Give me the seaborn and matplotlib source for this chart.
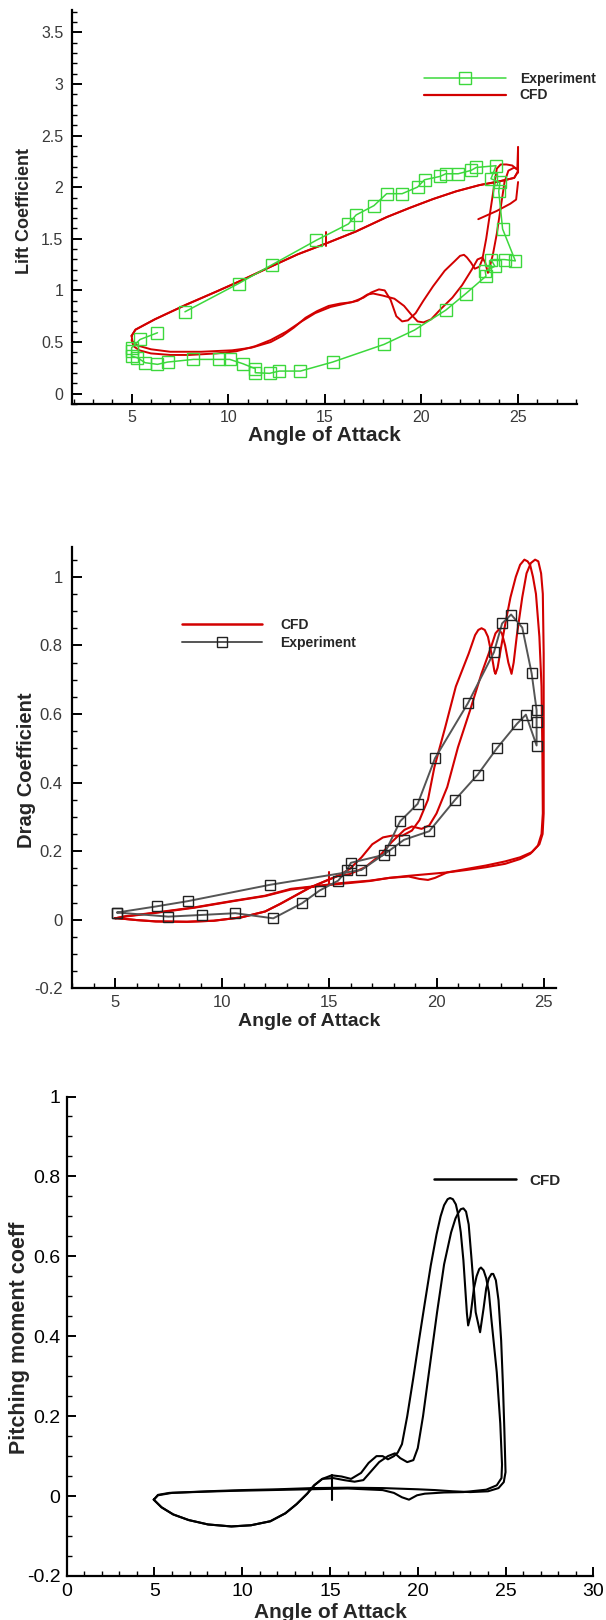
import numpy as np
import pandas as pd
import matplotlib
matplotlib.use('Agg')
import matplotlib.pyplot as plt
from matplotlib.lines import Line2D
from matplotlib.ticker import MultipleLocator, FuncFormatter
import seaborn as sns

# ---------------------------------------------------------
# Data (angle of attack in degrees)
# ---------------------------------------------------------
# Lift: experiment (one sweep, starts mid upstroke)
cl_exp_aoa = [7.76, 10.54, 12.28, 14.56, 16.22, 16.62, 17.54, 18.20, 19.00, 19.80, 20.16, 20.96,
              21.26, 21.90, 22.56, 22.84, 23.86, 23.60, 24.06, 24.00, 24.20, 24.86, 24.30, 23.60,
              23.80, 23.30, 23.34, 22.30, 21.26, 19.64, 18.06, 15.40, 13.74, 12.64, 12.14, 11.40,
              11.40, 10.76, 10.08, 9.52, 8.20, 6.86, 6.34, 5.70, 5.30, 5.00, 5.00, 5.00, 5.44, 6.34]
cl_exp_val = [0.793, 1.067, 1.250, 1.486, 1.644, 1.731, 1.821, 1.937, 1.937, 2.001, 2.072, 2.104,
              2.130, 2.130, 2.162, 2.191, 2.208, 2.082, 2.046, 1.959, 1.595, 1.286, 1.299, 1.299,
              1.234, 1.186, 1.138, 0.970, 0.809, 0.616, 0.477, 0.306, 0.219, 0.219, 0.197, 0.203,
              0.242, 0.290, 0.332, 0.332, 0.332, 0.306, 0.284, 0.300, 0.348, 0.364, 0.413, 0.445,
              0.525, 0.590]

# Lift: CFD upstroke (shared by both cycles)
cl_up_aoa = [5.0, 5.2, 6.2, 7.8, 9.4, 10.6, 12.2, 13.6, 15.0, 16.6, 18.2, 19.4, 20.6, 21.8, 23.0,
             24.0, 24.8, 24.96]
cl_up_val = [0.56, 0.62, 0.72, 0.86, 0.99, 1.09, 1.23, 1.35, 1.45, 1.57, 1.71, 1.80, 1.885, 1.96,
             2.02, 2.055, 2.09, 2.14]
# Lift: CFD downstroke, cycle 1
cl_dn1_aoa = [25.0, 25.0, 24.96, 24.7, 24.4, 24.1, 23.9, 23.75, 23.55, 23.35, 23.15, 23.0, 22.76,
              22.56, 22.35, 22.2, 22.0, 21.7, 21.2, 20.6, 20.1, 19.7, 19.3, 19.0, 18.7, 18.4, 18.1,
              17.8, 17.4, 17.0, 16.4, 15.8, 15.2, 14.6, 14.0, 13.4, 12.8, 12.2, 11.2, 10.2, 8.6,
              7.0, 6.0, 5.3, 5.04, 5.0]
cl_dn1_val = [2.14, 2.39, 2.17, 2.21, 2.22, 2.22, 2.18, 2.0, 1.75, 1.5, 1.3, 1.23, 1.21, 1.27,
              1.32, 1.345, 1.335, 1.28, 1.19, 1.04, 0.90, 0.78, 0.71, 0.70, 0.75, 0.91, 1.00, 1.01,
              0.98, 0.93, 0.886, 0.873, 0.85, 0.80, 0.735, 0.64, 0.56, 0.50, 0.445, 0.42, 0.406,
              0.406, 0.43, 0.467, 0.51, 0.56]
# Lift: CFD downstroke, cycle 2
cl_dn2_aoa = [24.96, 25.0, 24.8, 24.5, 24.3, 24.1, 23.9, 23.7, 23.5, 23.44, 23.3, 23.15, 22.9,
              22.6, 22.1, 21.6, 21.0, 20.5, 20.1, 19.8, 19.5, 19.1, 18.6, 18.0, 17.5, 17.2, 16.7,
              16.0, 15.3, 14.5, 13.8, 13.0, 12.2, 11.4, 10.4, 9.4, 8.0, 7.0, 6.0, 5.4, 5.1, 5.0]
cl_dn2_val = [2.14, 2.17, 2.19, 2.16, 2.05, 1.8, 1.55, 1.35, 1.2, 1.17, 1.27, 1.32, 1.30, 1.20,
              1.05, 0.93, 0.82, 0.72, 0.69, 0.70, 0.76, 0.85, 0.92, 0.95, 0.97, 0.96, 0.90, 0.87,
              0.84, 0.78, 0.70, 0.60, 0.52, 0.46, 0.41, 0.39, 0.375, 0.375, 0.39, 0.42, 0.46, 0.52]
# Lift: CFD start-up pieces
cl_start_aoa = [22.94, 23.9, 24.6, 24.9, 25.0]
cl_start_val = [1.69, 1.77, 1.84, 1.88, 2.05]
cl_kick_aoa = [15.04, 15.04]
cl_kick_val = [1.43, 1.57]

# Drag: experiment
cd_exp_aoa = [5.09, 7.48, 9.07, 10.61, 12.38, 13.72, 14.54, 15.41, 15.82, 16.0, 17.54, 18.30,
              19.12, 19.93, 21.47, 22.68, 23.06, 23.48, 24.0, 24.44, 24.67, 24.67, 24.67, 24.17,
              23.75, 22.83, 21.92, 20.87, 19.66, 18.48, 17.81, 16.49, 12.24, 8.38, 6.94, 5.09]
cd_exp_val = [0.021, 0.009, 0.014, 0.019, 0.004, 0.048, 0.085, 0.114, 0.145, 0.166, 0.189, 0.287,
              0.338, 0.471, 0.632, 0.780, 0.864, 0.890, 0.852, 0.718, 0.611, 0.576, 0.508, 0.598,
              0.571, 0.501, 0.423, 0.350, 0.258, 0.233, 0.202, 0.145, 0.102, 0.054, 0.039, 0.021]

# Drag: CFD low-angle upstroke (shared)
cd_low_aoa = [5.0, 6.0, 6.9, 8.35, 9.6, 10.9, 12.0, 12.7, 13.4, 14.1, 14.86, 15.4]
cd_low_val = [0.005, -0.001, -0.005, -0.006, -0.003, 0.007, 0.024, 0.046, 0.07, 0.094, 0.114, 0.128]
# Drag: CFD cycle 1
cd_c1_aoa = [15.95, 16.5, 17.0, 17.5, 17.9, 18.4, 18.85, 19.2, 19.6, 19.9, 20.4, 20.9, 21.5, 21.8,
             21.95, 22.1, 22.25, 22.4, 22.55, 22.7, 22.75, 22.85, 23.0, 23.2, 23.45, 23.7, 23.9,
             24.1, 24.25, 24.37, 24.5, 24.64, 24.8, 24.9, 24.94, 24.96, 24.9, 24.73, 24.37, 23.9,
             23.2, 22.3, 21.4, 20.5, 19.6, 18.7, 17.8, 16.9, 15.95, 15.4, 14.5, 13.2, 12.0, 10.5,
             8.7, 6.9, 5.45, 5.0]
cd_c1_val = [0.148, 0.182, 0.22, 0.24, 0.245, 0.245, 0.26, 0.29, 0.35, 0.445, 0.56, 0.68, 0.776,
             0.83, 0.845, 0.85, 0.845, 0.825, 0.78, 0.725, 0.717, 0.735, 0.79, 0.86, 0.94, 1.0,
             1.035, 1.05, 1.045, 1.034, 1.0, 0.95, 0.825, 0.68, 0.484, 0.31, 0.25, 0.216, 0.192,
             0.177, 0.163, 0.153, 0.145, 0.138, 0.133, 0.128, 0.122, 0.114, 0.109, 0.106, 0.099,
             0.09, 0.07, 0.055, 0.036, 0.021, 0.01, 0.004]
# Drag: CFD cycle 2
cd_c2_aoa = [15.95, 16.67, 17.4, 17.9, 18.5, 18.85, 19.3, 19.66, 20.0, 20.5, 21.0, 21.56, 22.1,
             22.55, 22.75, 22.9, 23.05, 23.2, 23.35, 23.5, 23.6, 23.75, 24.0, 24.2, 24.4, 24.6,
             24.75, 24.88, 24.96, 25.0, 25.0, 25.0, 24.95, 24.8, 24.45, 23.9, 23.2, 22.3, 21.4,
             20.5, 19.93, 19.6, 19.2, 18.7, 17.8, 16.9, 15.95, 15.4, 14.5, 13.2, 12.0, 10.5, 8.7,
             6.9, 5.45, 5.0]
cd_c2_val = [0.133, 0.153, 0.19, 0.226, 0.262, 0.272, 0.265, 0.275, 0.31, 0.387, 0.503, 0.61, 0.718,
             0.796, 0.835, 0.846, 0.835, 0.8, 0.75, 0.717, 0.75, 0.83, 0.94, 1.01, 1.04, 1.05,
             1.045, 1.01, 0.95, 0.776, 0.484, 0.31, 0.25, 0.22, 0.197, 0.182, 0.17, 0.158, 0.148,
             0.138, 0.122, 0.116, 0.119, 0.126, 0.122, 0.113, 0.107, 0.104, 0.098, 0.088, 0.069,
             0.054, 0.035, 0.02, 0.009, 0.004]
cd_kick_aoa = [15.0, 15.0]
cd_kick_val = [0.10, 0.14]

# Pitching moment: CFD lower loop (shared)
cm_low_aoa = [4.96, 5.4, 6.07, 6.95, 8.05, 9.38, 10.5, 11.6, 12.46, 13.1, 13.7, 14.1, 14.56]
cm_low_val = [-0.009, -0.028, -0.046, -0.06, -0.071, -0.076, -0.073, -0.063, -0.043, -0.02, 0.006,
              0.027, 0.043]
# Pitching moment: CFD cycle 1
cm_c1_aoa = [15.1, 15.66, 16.2, 16.77, 17.2, 17.65, 18.0, 18.3, 18.64, 18.86, 19.1, 19.4, 19.74,
             20.07, 20.4, 20.74, 21.07, 21.3, 21.5, 21.7, 21.84, 22.0, 22.17, 22.3, 22.45, 22.6,
             22.8, 22.87, 23.0, 23.2, 23.35, 23.5, 23.6, 23.75, 23.9, 24.05, 24.2, 24.5, 24.7, 24.8,
             24.77, 24.5, 23.9, 22.6, 21.5, 20.4, 19.96, 19.5, 19.1, 18.64, 18.0, 16.0, 13.8, 11.6,
             9.4, 7.2, 5.85, 5.2, 4.96]
cm_c1_val = [0.052, 0.049, 0.043, 0.058, 0.083, 0.10, 0.10, 0.092, 0.10, 0.109, 0.13, 0.20, 0.294,
             0.39, 0.483, 0.577, 0.655, 0.70, 0.728, 0.743, 0.746, 0.743, 0.73, 0.705, 0.66, 0.59,
             0.457, 0.427, 0.45, 0.52, 0.55, 0.568, 0.572, 0.565, 0.545, 0.51, 0.44, 0.31, 0.182,
             0.079, 0.045, 0.027, 0.016, 0.01, 0.009, 0.006, 0.002, -0.009, -0.003, 0.008, 0.015,
             0.019, 0.017, 0.015, 0.013, 0.01, 0.008, 0.003, -0.009]
# Pitching moment: CFD cycle 2
cm_c2_aoa = [15.2, 15.8, 16.4, 16.9, 17.3, 17.8, 18.3, 18.7, 19.0, 19.4, 19.75, 20.0, 20.3, 20.7,
             21.1, 21.5, 21.9, 22.15, 22.3, 22.45, 22.6, 22.75, 22.9, 23.05, 23.3, 23.55, 23.75,
             23.9, 24.05, 24.2, 24.3, 24.45, 24.6, 24.75, 24.85, 24.93, 25.0, 24.9, 24.6, 24.0,
             23.0, 22.0, 21.0, 20.0, 18.0, 16.0, 14.0, 12.0, 10.0, 8.0, 6.0, 5.2, 4.96]
cm_c2_val = [0.045, 0.04, 0.036, 0.04, 0.06, 0.085, 0.10, 0.107, 0.095, 0.085, 0.09, 0.12, 0.2, 0.33,
             0.46, 0.58, 0.66, 0.695, 0.708, 0.718, 0.72, 0.712, 0.68, 0.6, 0.46, 0.41, 0.47, 0.52,
             0.545, 0.556, 0.556, 0.54, 0.49, 0.39, 0.28, 0.17, 0.06, 0.035, 0.02, 0.012, 0.01,
             0.012, 0.015, 0.017, 0.02, 0.021, 0.02, 0.017, 0.015, 0.012, 0.008, 0.002, -0.009]
cm_kick_aoa = [15.1, 15.1]
cm_kick_val = [0.053, -0.011]

# ---------------------------------------------------------
# Colours / fonts
# ---------------------------------------------------------
GREEN = '#3cd83c'
RED = '#d20000'
GREY = '#555555'

sns.set_style('white')
plt.rcParams['font.family'] = ['Liberation Sans', 'DejaVu Sans']


def segments(name, parts):
    # parts: list of (aoa, value) lists, one polyline each
    frames = []
    for i, (a, v) in enumerate(parts):
        frames.append(pd.DataFrame({'aoa': a, name: v, 'seg': i}))
    return pd.concat(frames, ignore_index=True)


def style_axes(ax, xlim, ylim, xmaj, ymaj, ymin, fs, lab_color, xpad, ypad, tlen=7):
    ax.set_xlim(*xlim)
    ax.set_ylim(*ylim)
    sns.despine(ax=ax)
    for s in ['left', 'bottom']:
        ax.spines[s].set_linewidth(1.6)
        ax.spines[s].set_color('black')
    ax.xaxis.set_major_locator(MultipleLocator(xmaj))
    ax.xaxis.set_minor_locator(MultipleLocator(1))
    ax.yaxis.set_major_locator(MultipleLocator(ymaj))
    ax.yaxis.set_minor_locator(MultipleLocator(ymin))
    fmt = FuncFormatter(lambda v, p: f'{round(v, 6):g}')
    ax.xaxis.set_major_formatter(fmt)
    ax.yaxis.set_major_formatter(fmt)
    ax.tick_params(which='both', direction='in', color='black', labelcolor=lab_color,
                   labelsize=fs, bottom=True, left=True, top=False, right=False)
    ax.tick_params(which='major', length=tlen, width=1.4)
    ax.tick_params(which='minor', length=tlen * 0.55, width=1.0)
    ax.tick_params(axis='x', which='both', pad=xpad)
    ax.tick_params(axis='y', which='both', pad=ypad)
    ax.set_xlabel('')
    ax.set_ylabel('')


def labels(ax, xlab, ylab, xfs, yfs, xpos, ypos):
    ax.set_xlabel(xlab, fontsize=xfs, fontweight='bold', va='baseline')
    ax.set_ylabel(ylab, fontsize=yfs, fontweight='bold', va='center')
    ax.xaxis.set_label_coords(*xpos)
    ax.yaxis.set_label_coords(*ypos)


W, H = 606, 1620
fig = plt.figure(figsize=(W / 100, H / 100), dpi=100)


def px_axes(left, top, right, bottom):
    return fig.add_axes([left / W, 1 - bottom / H, (right - left) / W, (bottom - top) / H])


# ---------------------------------------------------------
# 1. Lift coefficient
# ---------------------------------------------------------
ax1 = px_axes(71.7, 10, 577, 404)
cl_cfd = segments('cl', [
    (cl_up_aoa + cl_dn1_aoa, cl_up_val + cl_dn1_val),
    (cl_up_aoa + cl_dn2_aoa, cl_up_val + cl_dn2_val),
    (cl_start_aoa, cl_start_val),
    (cl_kick_aoa, cl_kick_val),
])
sns.lineplot(data=cl_cfd, x='aoa', y='cl', units='seg', estimator=None, sort=False,
             color=RED, lw=1.4, ax=ax1, legend=False)
sns.lineplot(x=cl_exp_aoa, y=cl_exp_val, estimator=None, sort=False, color=GREEN, lw=1.1,
             marker='s', markersize=8, markerfacecolor='none', markeredgecolor=GREEN,
             markeredgewidth=1.0, ax=ax1)
style_axes(ax1, (1.9, 28.05), (-0.1, 3.716), 5, 0.5, 0.1, 11.5, '#3a3a3a', 4.5, 6)
labels(ax1, 'Angle of Attack', 'Lift Coefficient', 15, 13,
       (0.5, -(441 - 404) / 394), ((24.5 - 71.7) / 505.3, 0.49))
ax1.legend(handles=[Line2D([], [], color=GREEN, lw=1.1, marker='s', ms=8, mfc='none',
                           mec=GREEN, mew=1.0),
                    Line2D([], [], color=RED, lw=1.6)],
           labels=['Experiment', 'CFD'], loc='upper left', bbox_to_anchor=(0.697, 0.8426),
           frameon=False, borderpad=0, borderaxespad=0, handlelength=5.9,
           handletextpad=1.0, labelspacing=0.17, numpoints=1,
           prop={'weight': 'bold', 'size': 10})

# ---------------------------------------------------------
# 2. Drag coefficient
# ---------------------------------------------------------
ax2 = px_axes(72.3, 547.3, 556.1, 988.3)
cd_cfd = segments('cd', [
    (cd_low_aoa + cd_c1_aoa, cd_low_val + cd_c1_val),
    (cd_low_aoa + cd_c2_aoa, cd_low_val + cd_c2_val),
    (cd_kick_aoa, cd_kick_val),
])
sns.lineplot(data=cd_cfd, x='aoa', y='cd', units='seg', estimator=None, sort=False,
             color=RED, lw=1.5, ax=ax2, legend=False)
sns.lineplot(x=cd_exp_aoa, y=cd_exp_val, estimator=None, sort=False, color=GREY, lw=1.4,
             marker='s', markersize=6.5, markerfacecolor='none', markeredgecolor='#222222',
             markeredgewidth=1.0, ax=ax2)
style_axes(ax2, (3.0, 25.58), (-0.2, 1.086), 5, 0.2, 0.05, 12, '#3a3a3a', 5, 7)
labels(ax2, 'Angle of Attack', 'Drag Coefficient', 14, 14.5,
       ((309.5 - 72.3) / 483.8, -(1025.6 - 988.3) / 441), ((27 - 72.3) / 483.8, 0.495))
ax2.legend(handles=[Line2D([], [], color=RED, lw=1.8),
                    Line2D([], [], color=GREY, lw=1.4, marker='s', ms=6.5, mfc='none',
                           mec='#222222', mew=1.0)],
           labels=['CFD', 'Experiment'], loc='upper left', bbox_to_anchor=(0.226, 0.8397),
           frameon=False, borderpad=0, borderaxespad=0, handlelength=5.8,
           handletextpad=1.3, labelspacing=0.29, numpoints=1,
           prop={'weight': 'bold', 'size': 10})

# ---------------------------------------------------------
# 3. Pitching moment coefficient
# ---------------------------------------------------------
ax3 = px_axes(66.7, 1096.5, 593.3, 1576)
cm_cfd = segments('cm', [
    (cm_low_aoa + cm_c1_aoa, cm_low_val + cm_c1_val),
    (cm_low_aoa + cm_c2_aoa, cm_low_val + cm_c2_val),
    (cm_kick_aoa, cm_kick_val),
])
sns.lineplot(data=cm_cfd, x='aoa', y='cm', units='seg', estimator=None, sort=False,
             color='black', lw=1.5, ax=ax3, legend=False)
style_axes(ax3, (0, 30), (-0.2, 1.0), 5, 0.2, 0.05, 14, 'black', 5, 4.5, tlen=6.5)
labels(ax3, 'Angle of Attack', 'Pitching moment coeff', 15, 15.5,
       (0.5, -(1618 - 1576) / 479.5), ((19 - 66.7) / 526.6, 0.497))
ax3.legend(handles=[Line2D([], [], color='black', lw=1.8)], labels=['CFD'],
           loc='upper left', bbox_to_anchor=(0.697, 0.8392), frameon=False, borderpad=0,
           borderaxespad=0, handlelength=5.4, handletextpad=0.84,
           prop={'weight': 'bold', 'size': 11})

fig.savefig('out.png', dpi=100)
